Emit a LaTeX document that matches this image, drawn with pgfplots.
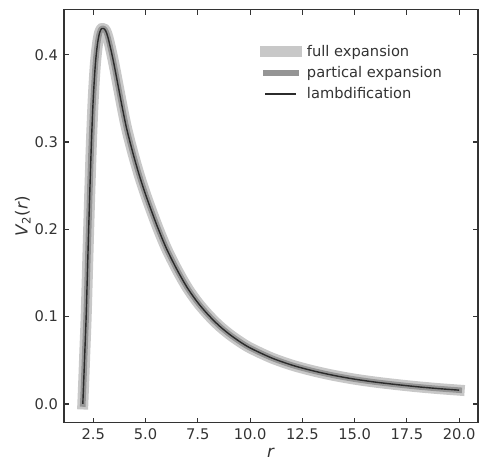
\documentclass[border=0pt]{standalone}
\usepackage{fontspec}
\setmainfont{DejaVu Sans}
\usepackage{pgfplots}
\usepackage{pgfplotstable}
\pgfplotsset{compat=1.18}
\definecolor{fullc}{HTML}{C8C8C8}
\definecolor{partc}{HTML}{959595}
\definecolor{lamc}{HTML}{2B2B2B}
\definecolor{spinec}{HTML}{333333}
\pgfplotstableread{
r V
2.00 0.000
2.05 0.030
2.10 0.062
2.16 0.100
2.22 0.150
2.28 0.200
2.35 0.255
2.42 0.305
2.50 0.350
2.60 0.389
2.70 0.412
2.80 0.425
2.90 0.430
3.00 0.430
3.10 0.427
3.20 0.420
3.35 0.405
3.50 0.388
3.70 0.363
3.90 0.338
4.10 0.315
4.40 0.287
4.70 0.262
5.00 0.240
5.30 0.220
5.60 0.201
6.00 0.178
6.50 0.154
7.00 0.133
7.50 0.116
8.00 0.102
8.50 0.090
9.00 0.080
9.50 0.0715
10.0 0.0642
11.0 0.0530
12.0 0.0445
13.0 0.0380
14.0 0.0327
15.0 0.0284
16.0 0.0250
17.0 0.0222
18.0 0.0197
19.0 0.0176
20.0 0.0158
}\potdata
\begin{document}
\begin{tikzpicture}
\begin{axis}[
  scale only axis, width=310.5pt, height=309.75pt,
  xmin=1.1, xmax=20.9, ymin=-0.0215, ymax=0.4515,
  xtick={2.5,5,7.5,10,12.5,15,17.5,20},
  ytick={0,0.1,0.2,0.3,0.4},
  /pgf/number format/assume math mode=true,
  /pgf/number format/fixed, /pgf/number format/fixed zerofill, /pgf/number format/precision=1,
  tick label style={font=\fontsize{11}{13}\selectfont, text=spinec},
  tick align=inside, tick pos=both, major tick length=3.6pt,
  every tick/.style={spinec, line width=0.85pt},
  axis line style={spinec, line width=0.85pt},
  xticklabel style={yshift=-1pt},
  yticklabel style={xshift=-1pt},
  xlabel={\textit{r}},
  ylabel={\textit{V}\textsubscript{2}(\textit{r})},
  label style={font=\fontsize{12.5}{15}\selectfont, text=spinec},
  xlabel style={at={(axis description cs:0.5,-0.084)}, anchor=base},
  ylabel style={at={(axis description cs:-0.088,0.5)}, anchor=base},
  legend style={draw=none, fill=none, at={(0.463,0.928)}, anchor=north west,
    font=\fontsize{11}{13}\selectfont, text=spinec, row sep=2pt,
    nodes={inner xsep=4pt}},
  legend cell align=left,
  legend image code/.code={\draw[#1] (0pt,0pt) -- (23pt,0pt);},
]
\addplot[no markers, smooth, fullc, line width=8.25pt, line cap=rect, line join=round] table[x=r,y=V] {\potdata};
\addlegendentry{full expansion}
\addplot[no markers, smooth, partc, line width=4.2pt, line cap=rect, line join=round] table[x=r,y=V] {\potdata};
\addlegendentry{partical expansion}
\addplot[no markers, smooth, lamc, line width=1.05pt, line join=round] table[x=r,y=V] {\potdata};
\addlegendentry{lambdification}
\end{axis}
\pgfresetboundingbox
\path[use as bounding box] ([shift={(-48pt,-28pt)}]current axis.south west) rectangle ([shift={(0.75pt,7.3pt)}]current axis.north east);
\end{tikzpicture}
\end{document}
